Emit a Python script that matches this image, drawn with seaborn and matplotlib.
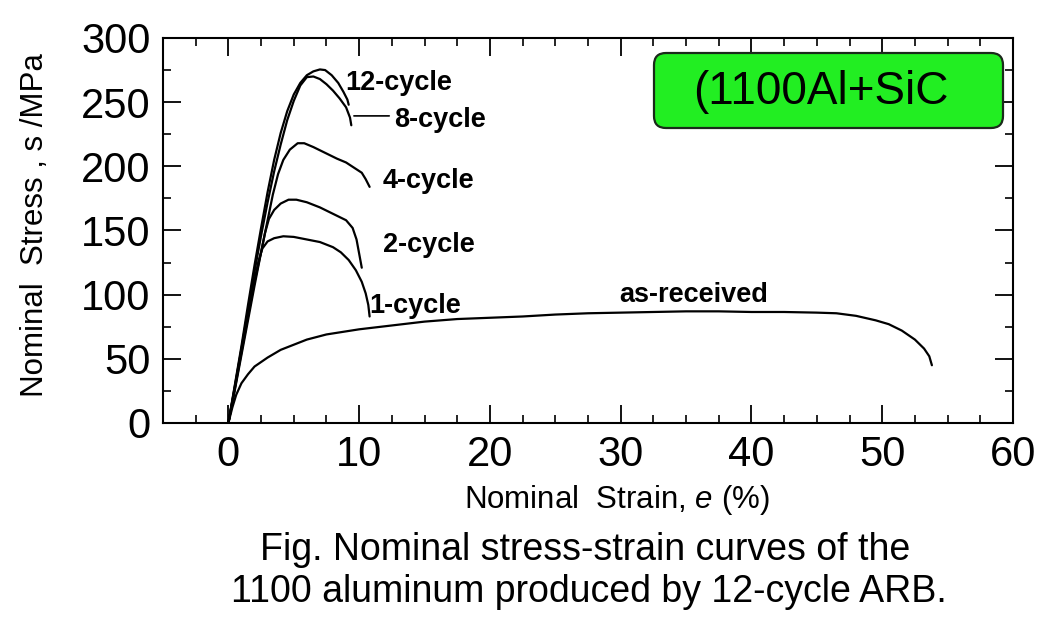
import numpy as np
import pandas as pd
import matplotlib
matplotlib.use("Agg")
import matplotlib.pyplot as plt
import seaborn as sns
from matplotlib.patches import FancyBboxPatch
from matplotlib.ticker import MultipleLocator

# ---------------- data ----------------
strain_asrec = [0, 0.3, 0.6, 1.0, 1.5, 2.0, 3.0, 4.0, 5.0, 6.0, 7.5, 10, 12.5, 15, 17.5, 20,
                22.5, 25, 27.5, 30, 32.5, 35, 37.5, 40, 42.5, 45, 46.5, 48, 49.5, 50.5,
                51.5, 52.5, 53.2, 53.6, 53.8]
stress_asrec = [0, 12, 22, 31, 38, 44, 51, 57, 61, 65, 69, 73, 76, 79, 81, 82,
                83, 84.5, 85.5, 86, 86.5, 87, 87, 86.5, 86.5, 86, 85.5, 83.5, 80, 77,
                72, 65, 58, 52, 45]

strain_1c = [0, 0.5, 1.0, 1.5, 2.0, 2.3, 2.6, 3.0, 3.5, 4.2, 5.0, 6.0, 7.0, 8.0, 8.6, 9.2,
             9.75, 10.2, 10.5, 10.7, 10.8]
stress_1c = [0, 28, 57, 86, 111, 126, 136, 141.5, 144, 145.5, 145, 143, 141, 137, 133, 127,
             119, 110, 101, 92, 83]

strain_2c = [0, 0.5, 1.0, 1.5, 2.0, 2.5, 2.8, 3.1, 3.5, 4.0, 4.6, 5.2, 6.0, 7.0, 8.0, 9.0,
             9.5, 9.8, 10.0, 10.2]
stress_2c = [0, 27, 55, 83, 110, 133, 148, 159, 166, 171, 174, 174, 172, 168, 163, 158,
             152, 143, 132, 121]

strain_4c = [0, 0.5, 1.0, 1.5, 2.0, 2.5, 3.0, 3.4, 3.8, 4.2, 4.7, 5.3, 5.8, 6.5, 7.5, 8.3,
             9.0, 9.6, 10.2, 10.5, 10.8]
stress_4c = [0, 26, 53, 80, 107, 133, 158, 178, 194, 205, 213, 218, 218, 215, 210, 206,
             203, 199, 195, 190, 184]

strain_8c = [0, 0.5, 1.0, 1.5, 2.0, 2.5, 3.0, 3.5, 4.0, 4.5, 5.0, 5.5, 6.0, 6.5, 7.0,
             7.5, 8.0, 8.5, 9.0, 9.3, 9.4]
stress_8c = [0, 29, 58, 88, 118, 146, 172, 196, 217, 236, 251, 263, 269.5, 270, 268,
             264, 259, 253, 246, 238, 232]

strain_12c = [0, 0.5, 1.0, 1.5, 2.0, 2.5, 3.0, 3.5, 4.0, 4.5, 5.0, 5.5, 6.0, 6.5, 7.0,
              7.4, 7.9, 8.4, 8.8, 9.1, 9.2]
stress_12c = [0, 30, 60, 92, 123, 152, 180, 205, 226, 243, 256, 265, 271, 274, 275.5,
              275, 271, 265, 258, 252, 248]

series_names = ["as-received", "1-cycle", "2-cycle", "4-cycle", "8-cycle", "12-cycle"]
x_ticks = [0, 10, 20, 30, 40, 50, 60]
y_ticks = [0, 50, 100, 150, 200, 250, 300]
box_text = "(1100Al+SiC"
caption_lines = ["Fig. Nominal stress-strain curves of the",
                 "1100 aluminum produced by 12-cycle ARB."]

# ---------------- build table ----------------
curves = [(strain_asrec, stress_asrec), (strain_1c, stress_1c), (strain_2c, stress_2c),
          (strain_4c, stress_4c), (strain_8c, stress_8c), (strain_12c, stress_12c)]
frames = []
for name, (sx, sy) in zip(series_names, curves):
    frames.append(pd.DataFrame({"strain": sx, "stress": sy, "sample": name}))
df = pd.concat(frames, ignore_index=True)

# ---------------- style ----------------
sns.set_theme(style="white")
plt.rcParams["font.family"] = ["Liberation Sans", "DejaVu Sans"]
plt.rcParams["mathtext.fontset"] = "custom"
plt.rcParams["mathtext.it"] = "Liberation Sans:italic"
plt.rcParams["mathtext.rm"] = "Liberation Sans"
plt.rcParams["text.color"] = "black"
plt.rcParams["xtick.color"] = "black"
plt.rcParams["ytick.color"] = "black"
plt.rcParams["xtick.labelcolor"] = "black"
plt.rcParams["ytick.labelcolor"] = "black"

fig = plt.figure(figsize=(10.63, 6.22), dpi=100, facecolor="white")
ax = fig.add_axes([0.15334, 0.31994, 0.7996, 0.61897])
ax.set_facecolor("white")

sns.lineplot(data=df, x="strain", y="stress", hue="sample", units="sample",
             estimator=None, sort=False, legend=False,
             palette={n: "black" for n in series_names}, linewidth=1.6, ax=ax)

ax.set_xlim(-5, 60)
ax.set_ylim(0, 300)
ax.set_xticks(x_ticks)
ax.set_yticks(y_ticks)
ax.xaxis.set_minor_locator(MultipleLocator(2.5))
ax.yaxis.set_minor_locator(MultipleLocator(25))
ax.tick_params(which="both", direction="in", top=True, right=True, bottom=True,
               left=True, color="black", labelcolor="black")
ax.tick_params(which="major", length=13, width=1.3, labelsize=30, pad=9)
ax.tick_params(which="minor", length=6, width=1.2)
ax.set_xlabel("")
ax.set_ylabel("")
for s in ax.spines.values():
    s.set_visible(True)
    s.set_color("black")
    s.set_linewidth(1.5)

# curve labels
lab_kw = dict(fontsize=19.5, fontweight="bold", ha="center", va="baseline", color="black")
ax.text(13.05, 259.5, "12-cycle", **lab_kw)
ax.text(16.2, 230.5, "8-cycle", **lab_kw)
ax.annotate("", xy=(9.6, 239.3), xytext=(12.3, 239.3), textcoords="data",
            arrowprops=dict(arrowstyle="-", color="black", lw=1.2,
                            shrinkA=0, shrinkB=0))
ax.text(15.3, 183, "4-cycle", **lab_kw)
ax.text(15.3, 133.5, "2-cycle", **lab_kw)
ax.text(14.3, 85.5, "1-cycle", **lab_kw)
ax.text(35.6, 94, "as-received", **lab_kw)

# green label box
W, H = 1063, 622
box = FancyBboxPatch((654 / W, 1 - 128 / H), 349 / W, 75 / H,
                     boxstyle="round,pad=0,rounding_size=0.0113",
                     mutation_aspect=W / H, transform=fig.transFigure,
                     facecolor="#22EE22", edgecolor="#1a2a1a", linewidth=1.6,
                     clip_on=False, zorder=5)
fig.patches.append(box)
fig.text(821 / W, 1 - 92 / H, box_text, fontsize=33, ha="center", va="center",
         color="black", zorder=6)

# axis labels
fig.text(35 / W, 1 - 225 / H, "Nominal  Stress , s /MPa", rotation=90,
         fontsize=22.5, ha="center", va="center", color="black")
fig.text(617 / W, 1 - 500 / H, "Nominal  Strain, $\\it{e}$ (%)", fontsize=22.5,
         ha="center", va="center", color="black")

# caption
fig.text(585 / W, 1 - 550 / H, caption_lines[0], fontsize=27, ha="center", va="center",
         color="black")
fig.text(589 / W, 1 - 592 / H, caption_lines[1], fontsize=27, ha="center", va="center",
         color="black")

fig.savefig("out.png", dpi=100, facecolor="white")
